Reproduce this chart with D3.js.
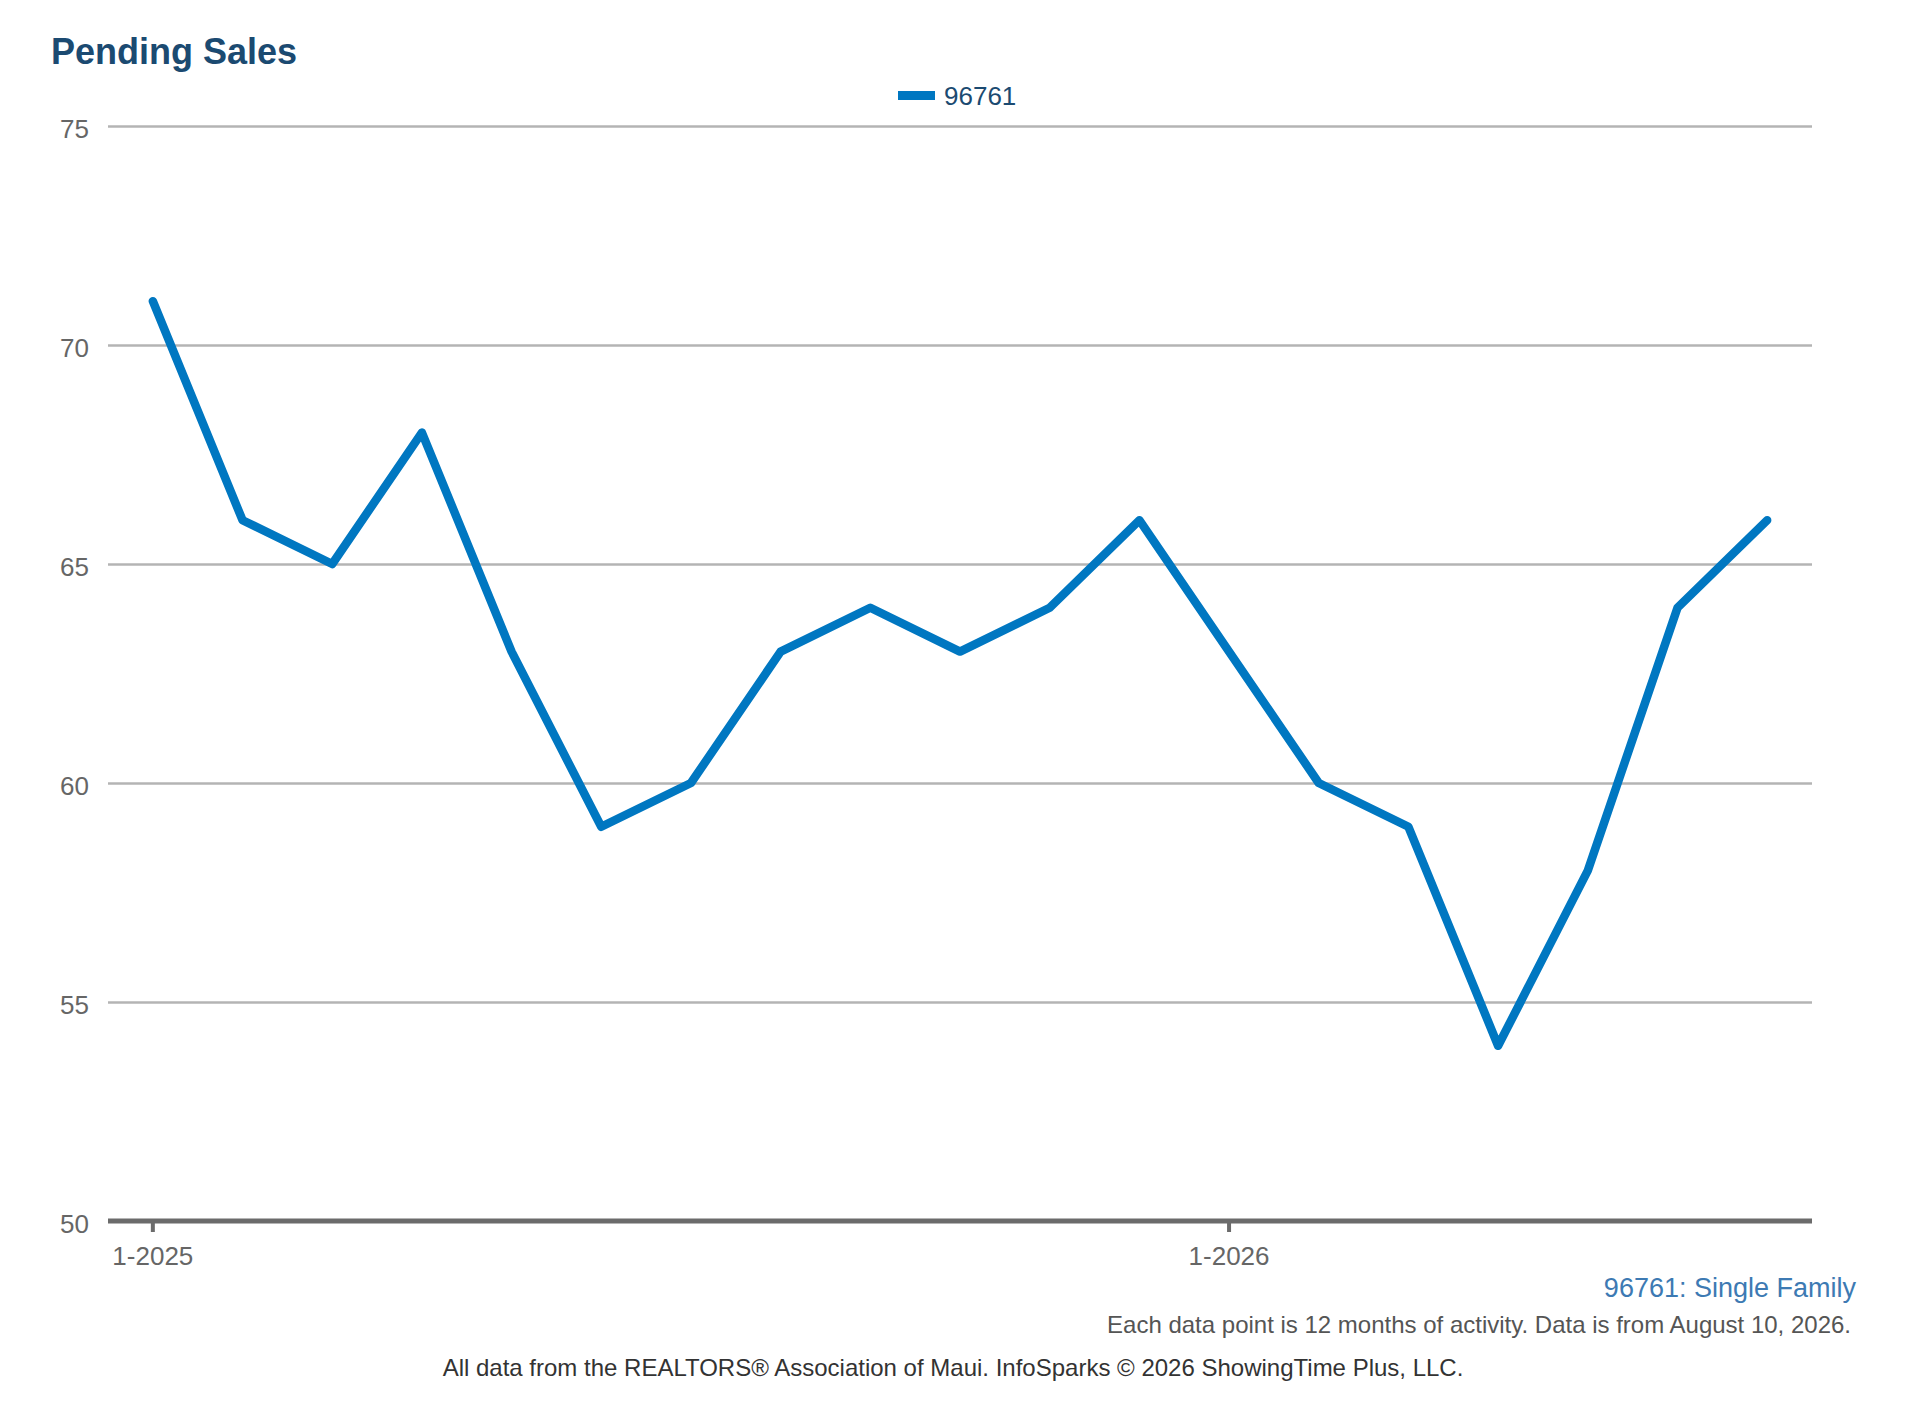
<!DOCTYPE html>
<html>
<head>
<meta charset="utf-8">
<script src="https://cdn.jsdelivr.net/npm/d3@7"></script>
<style>
  html, body { margin: 0; padding: 0; background: #fff; }
  svg { display: block; font-family: "Liberation Sans", Arial, Helvetica, sans-serif; }
  .axis text { fill: #666; font-size: 26px; }
</style>
</head>
<body>
<svg id="chart" width="1920" height="1402"></svg>
<script>
// Pending Sales, zip 96761, monthly rolling 12-month values
const MONTHS = [
  "1-2025", "2-2025", "3-2025", "4-2025", "5-2025", "6-2025", "7-2025",
  "8-2025", "9-2025", "10-2025", "11-2025", "12-2025", "1-2026", "2-2026",
  "3-2026", "4-2026", "5-2026", "6-2026", "7-2026",
];
const SALES = [71, 66, 65, 68, 63, 59, 60, 63, 64, 63, 64, 66, 63, 60, 59, 54, 58, 64, 66];
const Y_TICKS = [50, 55, 60, 65, 70, 75];
const X_TICKS = ["1-2025", "1-2026"];
const SERIES = "96761";

const W = 1920, H = 1402;
const m = { t: 126, r: 108, b: 181, l: 108 };
const svg = d3.select("#chart");

const x = d3.scaleBand().domain(MONTHS).range([m.l, W - m.r]);
const xc = (d) => x(d) + x.bandwidth() / 2;
const y = d3.scaleLinear().domain([50, 75]).range([H - m.b, m.t]);

// title
svg.append("text").attr("x", 51).attr("y", 64)
  .style("font-size", "36px").style("font-weight", 700).style("fill", "#1b4a71")
  .text("Pending Sales");

// legend
svg.append("rect").attr("x", 898).attr("y", 91).attr("width", 37).attr("height", 9)
  .attr("fill", "#0077c1");
svg.append("text").attr("x", 944).attr("y", 105)
  .style("font-size", "26px").style("fill", "#1b4a71").text(SERIES);

// gridlines + y labels
const yAxis = svg.append("g").attr("class", "axis")
  .attr("transform", `translate(${m.l},0)`)
  .call(d3.axisLeft(y).tickValues(Y_TICKS).tickSize(-(W - m.l - m.r)).tickPadding(19))
  .call((g) => g.select(".domain").remove());
yAxis.selectAll(".tick line").attr("stroke", "#b4b4b4").attr("stroke-width", 2.5);
yAxis.selectAll(".tick text").attr("dy", "0.45em");
yAxis.selectAll(".tick").filter((d) => d === 50).select("line").remove();

// bottom axis
const xAxis = svg.append("g").attr("class", "axis")
  .attr("transform", `translate(0,${y(50)})`)
  .call(d3.axisBottom(x).tickValues(X_TICKS).tickSize(11).tickPadding(15).tickSizeOuter(0));
xAxis.select(".domain").attr("stroke", "#6b6b6b").attr("stroke-width", 5)
  .attr("d", `M${m.l},0H${W - m.r}`);
xAxis.selectAll(".tick line").attr("stroke", "#6b6b6b").attr("stroke-width", 4);

// series line
const line = d3.line().x((d, i) => xc(MONTHS[i])).y((d) => y(d));
svg.append("path").datum(SALES).attr("d", line)
  .attr("fill", "none").attr("stroke", "#0077c1").attr("stroke-width", 8.5)
  .attr("stroke-linejoin", "round").attr("stroke-linecap", "round");

// footer
svg.append("text").attr("x", 1856).attr("y", 1297).attr("text-anchor", "end")
  .style("font-size", "27px").style("fill", "#3d7ab3").text("96761: Single Family");
svg.append("text").attr("x", 1851).attr("y", 1333).attr("text-anchor", "end")
  .style("font-size", "24px").style("fill", "#555")
  .text("Each data point is 12 months of activity. Data is from August 10, 2026.");
svg.append("text").attr("x", 953).attr("y", 1376).attr("text-anchor", "middle")
  .style("font-size", "24px").style("fill", "#333")
  .text("All data from the REALTORS® Association of Maui. InfoSparks © 2026 ShowingTime Plus, LLC.");
</script>
</body>
</html>
